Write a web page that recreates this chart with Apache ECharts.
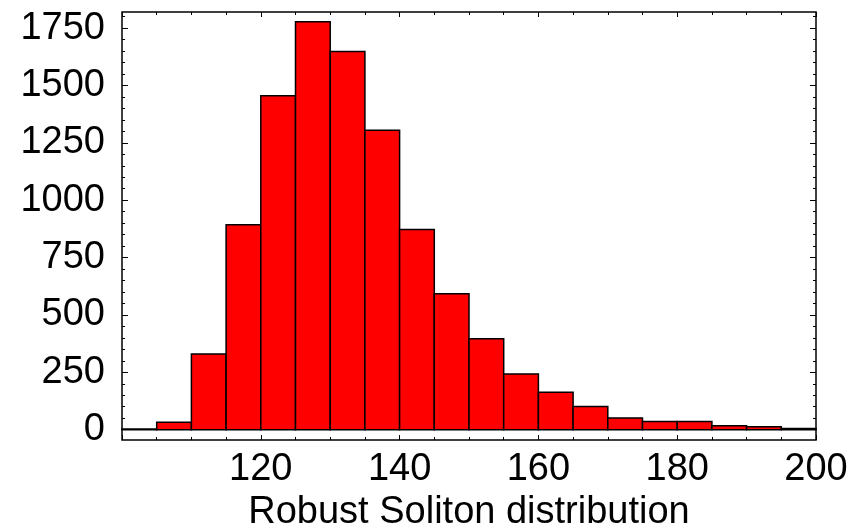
<!DOCTYPE html>
<html lang="en">
<head>
  <meta charset="UTF-8">
  <title>Robust Soliton distribution</title>
  <script src="https://cdn.jsdelivr.net/npm/echarts@6.0.0/dist/echarts.min.js"></script>
  <style>
    html, body, #main {
      margin: 0;
      padding: 0;
      width: 863px;
      height: 529px;
      background: #fff;
    }
  </style>
</head>
<body>
  <div id="main"></div>

  <script>
    // histogram bins (left edge) and counts, bin width 5
    const binStarts = [100, 105, 110, 115, 120, 125, 130, 135, 140, 145,
                       150, 155, 160, 165, 170, 175, 180, 185, 190, 195];
    const counts = [3, 32, 330, 893, 1455, 1777, 1648, 1305, 872, 592,
                    396, 243, 163, 101, 51, 36, 36, 17, 13, 5];
    const binWidth = 5;

    const yMajorTicks = [0, 250, 500, 750, 1000, 1250, 1500, 1750];
    const yMinorTicks = [];
    for (let v = 0; v <= 1800; v += 50) yMinorTicks.push(v);

    const FONT = '"Liberation Sans", Arial, sans-serif';

    const chart = echarts.init(document.getElementById('main'));

    function yAxisDef(pos, ticks, len, labels) {
      return {
        type: 'value',
        position: pos,
        min: -45,
        max: 1820,
        axisLine: { show: false },
        splitLine: { show: false },
        axisTick: {
          show: true,
          inside: true,
          length: len,
          customValues: ticks,
          lineStyle: { color: '#000', width: 1 }
        },
        axisLabel: {
          show: labels,
          customValues: yMajorTicks,
          color: '#000',
          fontFamily: FONT,
          fontSize: 38,
          margin: 17,
          formatter: v => String(v)
        }
      };
    }

    const option = {
      backgroundColor: '#fff',
      animation: false,
      grid: {
        left: 122,
        right: 47,
        top: 12,
        bottom: 89,
        outerBoundsMode: 'none',
        containLabel: false,
        show: true,
        borderColor: '#000',
        borderWidth: 1.5,
        backgroundColor: 'transparent'
      },
      xAxis: [
        {
          type: 'value',
          position: 'bottom',
          min: 100,
          max: 200,
          interval: 20,
          name: 'Robust Soliton distribution',
          nameLocation: 'middle',
          nameGap: 52,
          nameTextStyle: { color: '#000', fontFamily: FONT, fontSize: 38 },
          axisLine: { show: false, onZero: false },
          splitLine: { show: false },
          axisTick: { inside: true, length: 5, lineStyle: { color: '#000' } },
          minorTick: { show: true, splitNumber: 4, length: 3, lineStyle: { color: '#000' } },
          axisLabel: {
            color: '#000',
            fontFamily: FONT,
            fontSize: 38,
            margin: 11,
            formatter: v => (v === 100 ? '' : String(v))
          }
        },
        {
          type: 'value',
          position: 'top',
          min: 100,
          max: 200,
          interval: 20,
          axisLine: { show: false, onZero: false },
          splitLine: { show: false },
          axisTick: { inside: true, length: 5, lineStyle: { color: '#000' } },
          minorTick: { show: true, splitNumber: 4, length: 3, lineStyle: { color: '#000' } },
          axisLabel: { show: false }
        }
      ],
      yAxis: [
        yAxisDef('left', yMajorTicks, 6, true),
        yAxisDef('left', yMinorTicks, 3, false),
        yAxisDef('right', yMajorTicks, 6, false),
        yAxisDef('right', yMinorTicks, 3, false)
      ],
      series: [
        {
          type: 'custom',
          xAxisIndex: 0,
          yAxisIndex: 0,
          clip: false,
          data: binStarts.map((b, i) => [b, counts[i]]),
          renderItem: function (params, api) {
            const x0 = api.value(0);
            const p0 = api.coord([x0, api.value(1)]);
            const p1 = api.coord([x0 + binWidth, 0]);
            return {
              type: 'rect',
              shape: { x: p0[0], y: p0[1], width: p1[0] - p0[0], height: p1[1] - p0[1] },
              style: { fill: '#ff0000', stroke: '#000', lineWidth: 1.5 }
            };
          }
        }
      ]
    };

    chart.setOption(option);
  </script>
</body>
</html>
